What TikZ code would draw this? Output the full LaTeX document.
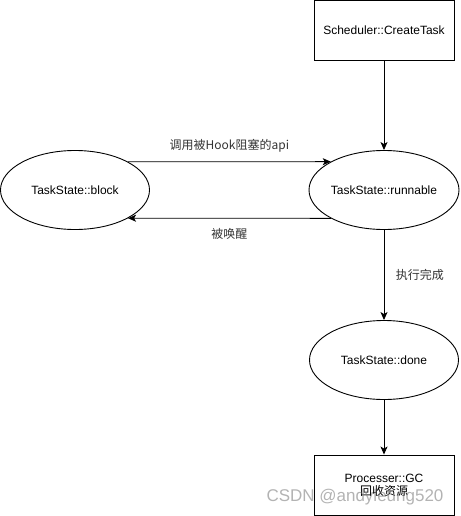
\documentclass[tikz,border=0pt]{standalone}
\usepackage{fontspec}
\setmainfont{Liberation Sans}
\newfontfamily\cjk{Noto Sans CJK SC}
\usetikzlibrary{arrows.meta, positioning, shapes.geometric}

\begin{document}
\begin{tikzpicture}[x=1pt, y=-1pt, line width=0.9pt, >={Stealth[length=8pt, width=7pt, inset=2pt]},
	every node/.style={font=\fontsize{12}{15}\selectfont},
	state/.style={draw, ellipse, minimum width=149pt, minimum height=79pt, inner sep=0pt},
	box/.style={draw, rectangle, minimum width=140pt, minimum height=60pt, align=center},
	lbl/.style={font=\cjk\fontsize{12}{15}\selectfont, text=black!80}]
				\useasboundingbox (0,0) rectangle (460,516);

				\node[box] (create) at (384,30.5) {Scheduler::CreateTask};
				\node[state] (runnable) at (384,190) {TaskState::runnable};
				\node[state] (block) at (75,190) {TaskState::block};
				\node[state] (done) at (384,360) {TaskState::done};
				\node[box, minimum height=60pt] (gc) at (384,485) {Processer::GC\\[-2pt]{\cjk 回收资源}};

				\draw[->] (create) -- (runnable);

				\draw[->] (block.28) -- (runnable.152)
				node[lbl, midway, above=6pt] {调用被Hook阻塞的api};
				\draw[->] (runnable.208) -- (block.332)
				node[lbl, midway, below=6pt] {被唤醒};

				\draw[->] (runnable) -- (done)
				node[lbl, pos=0.5, right=8pt] {执行完成};
				\draw[->] (done) -- (gc);

				\node[font=\fontsize{17}{20}\selectfont, text=gray, opacity=0.6] (mark) at (355,497) {CSDN @andyleung520};
			\end{tikzpicture}
\end{document}
